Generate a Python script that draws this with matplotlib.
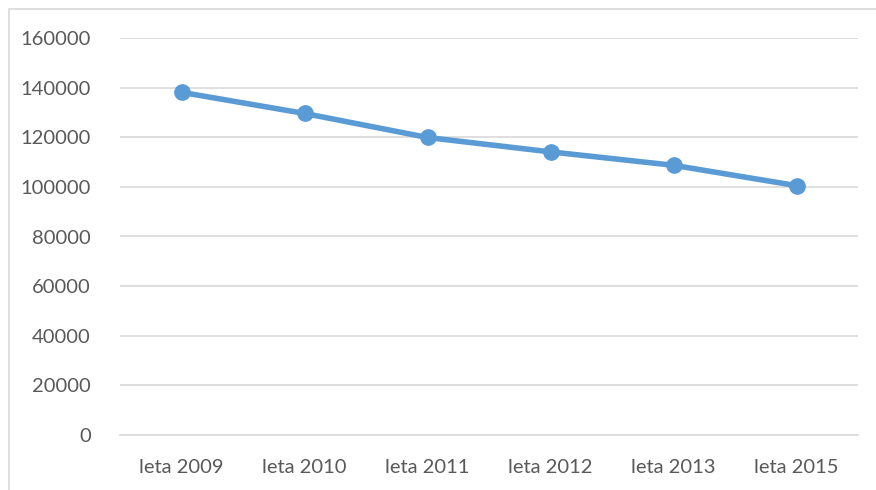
import matplotlib.pyplot as plt
from matplotlib.patches import Rectangle

years = ['leta 2009', 'leta 2010', 'leta 2011', 'leta 2012', 'leta 2013', 'leta 2015']
values = [138100, 129600, 119900, 114100, 108700, 100500]
y_ticks = list(range(0, 160001, 20000))

plt.rcParams['font.family'] = ['Lato', 'DejaVu Sans']

fig = plt.figure(figsize=(8.76, 4.90), dpi=100)
ax = fig.add_axes([120 / 876, 55 / 490, 738 / 876, 397 / 490])

x = range(len(years))
ax.plot(x, values, color='#5B9BD5', linewidth=4.0, marker='o', markersize=11,
        solid_capstyle='round', zorder=3)

ax.set_xlim(-0.5, len(years) - 0.5)
ax.set_ylim(0, 160000)
ax.set_yticks(y_ticks)
ax.set_yticklabels([str(t) for t in y_ticks])
ax.set_xticks(list(x))
ax.set_xticklabels(years)

ax.grid(axis='y', color='#D9D9D9', linewidth=1.2)
ax.set_axisbelow(True)
for side in ['top', 'right', 'left']:
    ax.spines[side].set_visible(False)
ax.spines['bottom'].set_color('#D9D9D9')
ax.spines['bottom'].set_linewidth(1.2)
ax.tick_params(axis='both', length=0, labelsize=14.5, colors='#595959')
ax.tick_params(axis='y', pad=21)
ax.tick_params(axis='x', pad=17)

fig.patches.append(Rectangle((9 / 876, -0.1), 1.2, 1.1 - 9 / 490,
                             transform=fig.transFigure, fill=False,
                             edgecolor='#D9D9D9', linewidth=1.2))

fig.savefig('out.png', dpi=100)
